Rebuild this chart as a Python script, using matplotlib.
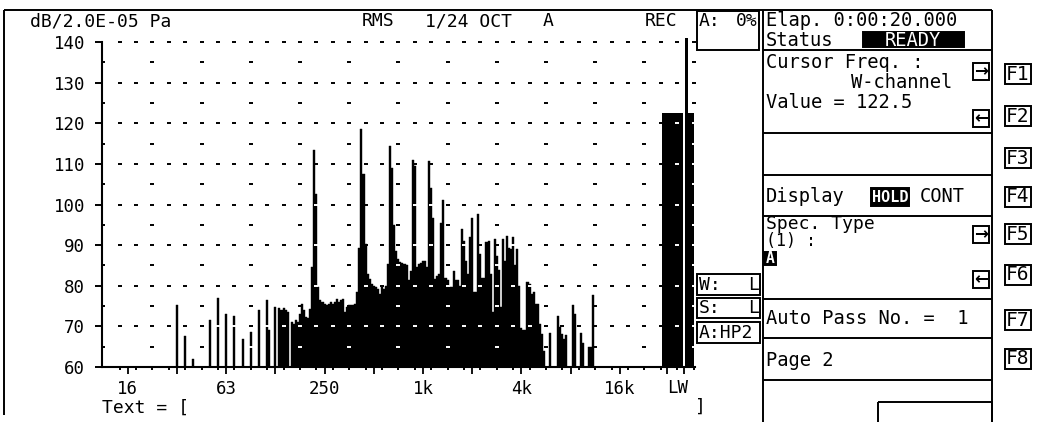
import matplotlib
matplotlib.use("Agg")
import matplotlib.pyplot as plt
from matplotlib.patches import Rectangle
import numpy as np

# 1/24-octave spectrum, dB re 2.0E-05 Pa. band 0 = 16 Hz, 24 bands per octave
first_band = 24
band_levels = [
    75.2, 60, 60, 60, 67.6, 60, 60, 60,            # 24-31
    62.0, 60, 60, 60, 60, 60, 60, 60,              # 32-39
    71.6, 60, 60, 60, 77.0, 60, 60, 60,            # 40-47
    73.0, 60, 60, 60, 72.5, 60, 60, 60,            # 48-55
    67.0, 60, 60, 60, 68.5, 60, 60, 60,            # 56-63
    74.0, 60, 60, 60, 76.5, 69.0, 60, 60,          # 64-71
    74.8, 60, 74.5, 74.0, 74.5, 74.0, 73.5, 60,    # 72-79
    71.0, 70.5, 71.5, 71.0, 73.0, 75.5, 74.0, 72.3,
    72.0, 74.3, 84.5, 113.5, 102.5, 79.6, 76.4, 76.0,
    75.6, 75.2, 75.6, 76.0, 75.6, 76.0, 76.8, 76.0,
    76.4, 76.8, 73.5, 74.8, 75.2, 75.2, 75.2, 75.6,
    78.4, 89.4, 118.6, 107.4, 90.2, 83.0, 81.7, 80.5,
    80.0, 79.6, 79.2, 78.0, 79.6, 79.2, 80.0, 85.4,
    114.5, 109.0, 95.0, 88.6, 86.5, 85.8, 85.5, 85.4,
    85.0, 81.3, 83.7, 111.0, 109.5, 84.5, 85.3, 85.5,
    86.0, 86.0, 84.5, 110.6, 104.0, 96.8, 81.7, 82.5,
    83.0, 95.5, 101.0, 82.0, 81.3, 79.6, 79.6, 83.7,
    81.5, 81.3, 80.0, 93.9, 91.0, 86.0, 82.9, 91.9,
    96.8, 78.4, 78.4, 97.6, 87.8, 82.0, 82.0, 90.7,
    91.0, 83.0, 73.5, 91.5, 87.4, 84.0, 74.7, 91.5,
    86.2, 92.3, 89.4, 89.0, 91.9, 85.0, 89.0, 80.0,
    69.5, 69.0, 69.0, 80.9, 80.5, 78.0, 78.4, 75.6,
    75.6, 70.7, 68.2, 64.0, 60, 60, 68.4, 60,
    60, 60, 72.5, 69.9, 68.2, 66.8, 67.8, 60,
    60, 75.3, 73.1, 60, 60, 68.4, 65.8, 60,
    60, 65.0, 65.0, 77.8,                          # 224-227
]

# overall (LW) bars
lw_levels = [122.5, 141.0, 122.5]
lw_left = [260.6, 271.8, 273.2]
lw_width = [10.4, 1.4, 3.0]

x_tick_labels = ["16", "63", "250", "1k", "4k", "16k"]
x_tick_bands = [0, 48, 96, 144, 192, 240]
y_ticks = [60, 70, 80, 90, 100, 110, 120, 130, 140]

MONO = "DejaVu Sans Mono"
W, H = 1040, 422
RP = 13.5  # right panel text size

fig = plt.figure(figsize=(W / 100, H / 100), dpi=100)
ov = fig.add_axes([0, 0, 1, 1])
ov.set_xlim(0, W)
ov.set_ylim(H, 0)
ov.axis("off")


def line(x0, y0, x1, y1, lw=1.4):
    ov.plot([x0, x1], [y0, y1], color="black", lw=lw, solid_capstyle="butt")


def rect(x0, y0, x1, y1, fill=False, lw=1.4):
    ov.add_patch(Rectangle((x0, y0), x1 - x0, y1 - y0, facecolor="black" if fill else "none",
                           edgecolor="black", linewidth=lw))


def txt(x, y, s, size=RP, ha="left", color="black", weight="normal", family=MONO):
    ov.text(x, y, s, fontsize=size, family=family, ha=ha, va="center", color=color,
            fontweight=weight)


# ---- left panel frame and header
line(4, 10, 763, 10)
line(4, 10, 4, 415)
txt(30, 22, "dB/2.0E-05 Pa", 13)
txt(362, 21, "RMS", 13)
txt(425, 21, "1/24 OCT", 13)
txt(543, 21, "A", 13)
txt(645, 21, "REC", 13)
rect(697, 11, 759, 50)
txt(699, 21, "A:", 13)
txt(758, 21, "0%", 13, ha="right")
for y0, y1, a, b in [(274, 295, "W:", "L"), (298, 318, "S:", "L")]:
    rect(697, y0, 760, y1)
    txt(699, (y0 + y1) / 2, a, 13)
    txt(759, (y0 + y1) / 2, b, 13, ha="right")
rect(697, 322, 760, 343)
txt(699, 332.5, "A:HP2", 13)
txt(102, 408, "Text = [", 13)
txt(695, 407, "]", 13)

# ---- right panel
line(763, 10, 992, 10)
line(763, 10, 763, 422)
line(992, 10, 992, 422)
for y in [50, 133, 175, 216, 299, 338, 380]:
    line(763, y, 992, y)
rect(878, 402, 992, 424)
txt(766, 20, "Elap. 0:00:20.000")
txt(766, 40, "Status")
rect(863, 32, 964, 47, fill=True)
txt(913, 40, "READY", ha="center", color="white")
txt(766, 62, "Cursor Freq. :")
txt(851, 82, "W-channel")
txt(766, 103, "Value = 122.5")
for y0, s in [(63, "→"), (110, "←"), (226, "→"), (271, "←")]:
    rect(973, y0, 989, y0 + 17)
    txt(981, y0 + 8.5, s, 12, ha="center", weight="bold", family="DejaVu Sans")
txt(766, 197, "Display")
rect(871, 188, 909, 206, fill=True)
txt(890, 197, "HOLD", 11, ha="center", color="white", weight="bold")
txt(920, 197, "CONT")
txt(766, 224, "Spec. Type", 13)
txt(766, 241, "(1) :", 12)
rect(764, 252, 776, 265, fill=True)
txt(770, 258.5, "A", 10.5, ha="center", color="white", weight="bold")
txt(766, 319, "Auto Pass No. =  1")
txt(766, 360, "Page 2")

# function keys
for i, yc in enumerate([74, 116, 158, 197, 234, 275, 320, 359]):
    rect(1005, yc - 10, 1031, yc + 10)
    txt(1018, yc, "F%d" % (i + 1), 14, ha="center")

# ---- spectrum axes
ax = fig.add_axes([101.7 / W, (H - 367) / H, (695 - 101.7) / W, (367 - 42) / H])
ax.patch.set_alpha(0)
ax.set_xlim(-12.7, 276.7)
ax.set_ylim(60, 140)
for s in ["top", "right"]:
    ax.spines[s].set_visible(False)
for s in ["left", "bottom"]:
    ax.spines[s].set_linewidth(1.5)

levels = np.array(band_levels, dtype=float)
bands = np.arange(first_band, first_band + len(levels))
show = levels > 60
ax.bar(bands[show], levels[show] - 60, bottom=60, width=1.0, color="black",
       linewidth=0.3, edgecolor="black", zorder=2)
for lv, l0, wd in zip(lw_levels, lw_left, lw_width):
    ax.bar(l0, lv - 60, bottom=60, width=wd, align="edge", color="black",
           linewidth=0, zorder=2, clip_on=False)


def level_at(b):
    for lv, l0, wd in zip(lw_levels, lw_left, lw_width):
        if l0 <= b <= l0 + wd:
            return lv
    i = int(round(b)) - first_band
    if 0 <= i < len(levels):
        return levels[i]
    return 60


# dotted grid, inverted where it falls on a bar
gx, gy = [], []
for lv in range(70, 141, 10):
    for b in np.arange(-4, 277, 8):
        gx.append(b)
        gy.append(lv)
for lv in range(65, 140, 10):
    for b in np.arange(-12, 277, 24):
        gx.append(b)
        gy.append(lv)
gx = np.array(gx, dtype=float)
gy = np.array(gy, dtype=float)
under = np.array([level_at(b) > y + 0.3 for b, y in zip(gx, gy)])
ax.plot(gx[~under], gy[~under], ls="none", marker="_", ms=2.8, mew=1.4,
        color="black", zorder=1, clip_on=False)
ax.plot(gx[under], gy[under], ls="none", marker="_", ms=2.8, mew=1.4,
        color="white", zorder=3, clip_on=False)

ax.set_yticks(y_ticks)
ax.set_yticklabels([str(v) for v in y_ticks], family=MONO, fontsize=12.5)
ax.tick_params(axis="y", length=5, width=1.4, pad=7)

octaves = list(range(0, 241, 24)) + [263, 271.4]
ax.set_xticks(octaves)
lab = {b: s for b, s in zip(x_tick_bands, x_tick_labels)}
ax.set_xticklabels([lab.get(b, "") for b in octaves], family=MONO, fontsize=12.5)
ax.set_xticks(np.arange(-4, 277, 8), minor=True)
ax.tick_params(axis="x", which="major", length=5, width=1.3, pad=4)
ax.tick_params(axis="x", which="minor", length=2.5, width=1.4)
ax.text(268, -0.037, "LW", transform=ax.get_xaxis_transform(), family=MONO,
        fontsize=12.5, ha="center", va="top")

fig.savefig("out.png", dpi=100, facecolor="white")
